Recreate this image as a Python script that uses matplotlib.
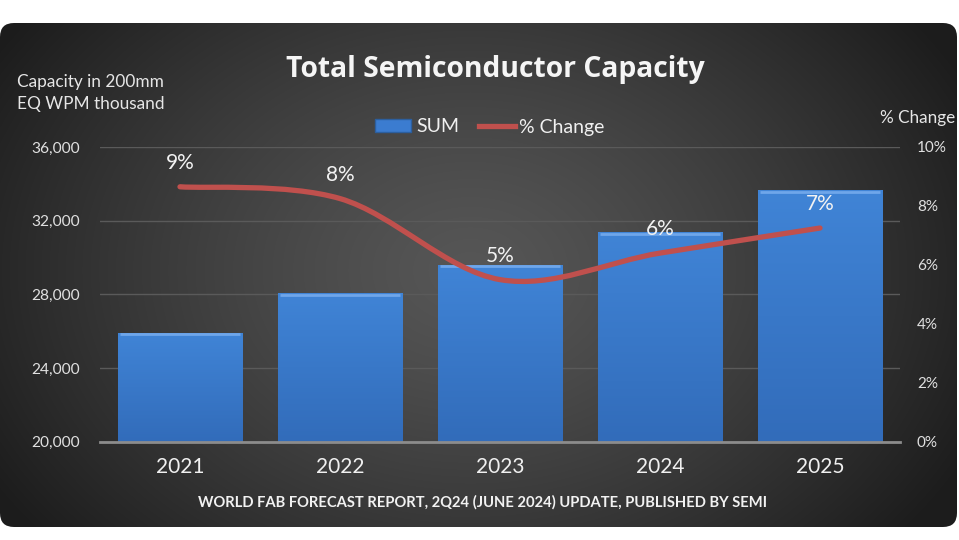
import numpy as np
import matplotlib
matplotlib.use("Agg")
import matplotlib.pyplot as plt
from matplotlib.patches import FancyBboxPatch, Patch, PathPatch
from matplotlib.lines import Line2D
from matplotlib.path import Path

plt.rcParams['font.family'] = ['Lato', 'DejaVu Sans']

# ---------------- data ----------------
years = ["2021", "2022", "2023", "2024", "2025"]
capacity = [25900, 28050, 29600, 31370, 33650]          # 200mm EQ WPM thousand
pct_change = [8.65, 8.25, 5.5, 6.4, 7.25]              # % change
pct_labels = ["9%", "8%", "5%", "6%", "7%"]
left_ticks = [20000, 24000, 28000, 32000, 36000]
right_ticks = [0, 2, 4, 6, 8, 10]

W, H = 959, 540
fig = plt.figure(figsize=(W / 100, H / 100), dpi=100)
fig.patch.set_facecolor("white")

# ---------------- background panel ----------------
bg = fig.add_axes([0, 0, 1, 1])
bg.set_xlim(0, W)
bg.set_ylim(H, 0)
bg.axis("off")
yy, xx = np.mgrid[0:H, 0:W]
r = np.sqrt(((xx - 470) / 560.0) ** 2 + ((yy - 270) / 420.0) ** 2)
r = np.clip(r, 0, 1)
c_in = np.array([86, 86, 86]) / 255.0
c_out = np.array([28, 28, 28]) / 255.0
img = c_in[None, None, :] * (1 - r[..., None] ** 1.3) + c_out[None, None, :] * (r[..., None] ** 1.3)
panel = FancyBboxPatch((0, 23), 957, 504, boxstyle="round,pad=0,rounding_size=14",
                       transform=bg.transData, facecolor="none", edgecolor="none")
bg.add_patch(panel)
im = bg.imshow(img, extent=(0, W, H, 0), aspect="auto", zorder=0)
im.set_clip_path(panel)

# ---------------- main axes ----------------
ax = fig.add_axes([100 / W, 1 - 441.7 / H, 800 / W, (441.7 - 147) / H])
ax.set_facecolor("none")
x = np.arange(len(years))
base = left_ticks[0]
bars = ax.bar(x, [c - base for c in capacity], bottom=base, width=0.78,
              color="#3b7cd0", edgecolor="#2c5f9f", linewidth=0.6, zorder=3)
# vertical gradient + top bevel on each bar
for b in bars:
    bx, by, bw, bh = b.get_x(), b.get_y(), b.get_width(), b.get_height()
    grad = np.linspace(0, 1, 100)[:, None]
    top = np.array([64, 132, 214]) / 255.0
    bot = np.array([50, 108, 186]) / 255.0
    gimg = top[None, None, :] * (1 - grad[..., None]) + bot[None, None, :] * grad[..., None]
    gi = ax.imshow(gimg, extent=(bx, bx + bw, by, by + bh), aspect="auto", zorder=3.1,
                   origin="upper")
    gi.set_clip_path(b)
    ax.plot([bx + 0.015, bx + bw - 0.015], [by + bh - 70, by + bh - 70],
            color="#6fa6ea", lw=2.0, zorder=3.2, solid_capstyle="butt")

ax.set_xlim(-0.5, len(years) - 0.5)
ax.set_ylim(left_ticks[0], left_ticks[-1])
ax.set_yticks(left_ticks)
ax.set_yticklabels([f"{v:,}" for v in left_ticks])
ax.set_xticks(x)
ax.set_xticklabels(years)
ax.grid(axis="y", color="#5a5a5a", lw=1.0, zorder=0)
ax.set_axisbelow(True)
for s in ["top", "right", "left"]:
    ax.spines[s].set_visible(False)
ax.spines["bottom"].set_color("#8c8c8c")
ax.spines["bottom"].set_linewidth(2.0)
ax.spines["bottom"].set_zorder(4)
ax.tick_params(axis="y", length=0, pad=14.4, labelsize=11.2, labelcolor="#e0e0e0")
ax.tick_params(axis="x", length=0, pad=11, labelsize=15, labelcolor="#f0f0f0")

# ---------------- secondary axis + smoothed line ----------------
ax2 = ax.twinx()
ax2.set_ylim(right_ticks[0], right_ticks[-1])
ax2.set_yticks(right_ticks)
ax2.set_yticklabels([f"{v}%" for v in right_ticks])
for s in ax2.spines.values():
    s.set_visible(False)
ax2.tick_params(axis="y", length=0, pad=12.2, labelsize=11, labelcolor="#e0e0e0")

pts = np.column_stack([x, pct_change]).astype(float)
n = len(pts)
verts = [pts[0]]
codes = [Path.MOVETO]
for i in range(n - 1):
    p0 = pts[i - 1] if i > 0 else pts[i]
    p1 = pts[i]
    p2 = pts[i + 1]
    p3 = pts[i + 2] if i + 2 < n else pts[i + 1]
    c1 = p1 + (p2 - p0) / 6.0
    c2 = p2 - (p3 - p1) / 6.0
    verts += [c1, c2, p2]
    codes += [Path.CURVE4] * 3
path = Path(verts, codes)
ax2.add_patch(PathPatch(path, facecolor="none", edgecolor="#c0504d", lw=3.8,
                        capstyle="round", zorder=5))
for xi, yi, lab in zip(x, pct_change, pct_labels):
    ax2.annotate(lab, (xi, yi), xytext=(0, 10), textcoords="offset points",
                 ha="center", va="bottom", fontsize=15, color="#f2f2f2", zorder=6)

# ---------------- texts ----------------
fig.text(495 / W, 1 - 69 / H, "Total Semiconductor Capacity", ha="center", va="center",
         fontsize=20.3, fontweight="bold", color="#f5f5f5",
         family=["Open Sans", "DejaVu Sans"])
fig.text(17 / W, 1 - 82 / H, "Capacity in 200mm", ha="left", va="center",
         fontsize=12.4, color="#e6e6e6")
fig.text(17 / W, 1 - 104 / H, "EQ WPM thousand", ha="left", va="center",
         fontsize=12.4, color="#e6e6e6")
fig.text(955 / W, 1 - 118 / H, "% Change", ha="right", va="center",
         fontsize=12.3, color="#e6e6e6")
fig.text(483 / W, 1 - 502 / H,
         "WORLD FAB FORECAST REPORT, 2Q24 (JUNE 2024) UPDATE, PUBLISHED BY SEMI",
         ha="center", va="center", fontsize=10.6, fontweight="bold", color="#f2f2f2")

handles = [Patch(facecolor="#3b7cd0", edgecolor="#2c5f9f", label="SUM"),
           Line2D([0], [0], color="#c0504d", lw=3.8, label="% Change")]
leg = fig.legend(handles=handles, loc="center", bbox_to_anchor=(490 / W, 1 - 127 / H),
                 ncol=2, frameon=False, fontsize=14, labelcolor="#f0f0f0",
                 handlelength=1.85, handleheight=0.6, handletextpad=0.25, columnspacing=1.0)

fig.savefig("out.png", dpi=100, facecolor=fig.get_facecolor())
